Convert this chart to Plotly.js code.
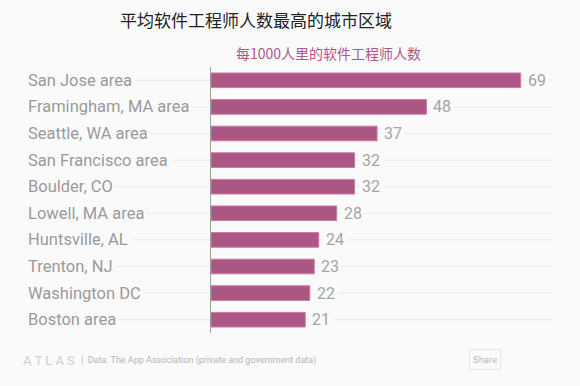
<!DOCTYPE html>
<html>
<head>
<meta charset="utf-8">
<script src="https://cdn.plot.ly/plotly-3.0.1.min.js"></script>
<style>
html,body{margin:0;padding:0;background:#fafafa;}
#chart{width:580px;height:386px;}
</style>
</head>
<body>
<div id="chart"></div>
<script>
const categories = ["San Jose area","Framingham, MA area","Seattle, WA area","San Francisco area","Boulder, CO","Lowell, MA area","Huntsville, AL","Trenton, NJ","Washington DC","Boston area"];
const values = [69,48,37,32,32,28,24,23,22,21];
const titleText = "平均软件工程师人数最高的城市区域";
const subtitleText = "每1000人里的软件工程师人数";
const sourceText = "Data: The App Association (private and government data)";

const W = 580, H = 386;
const mL = 211, mR = 27, mT = 67, mB = 53;
const plotW = W - mL - mR;
const px2paper = p => (p - mL) / plotW;
const bg = "#fafafa";
const font = "Roboto, 'Noto Sans', sans-serif";
const cjk = "'Noto Sans CJK SC', sans-serif";

const shapes = [];
const annotations = [];

categories.forEach((c, i) => {
  shapes.push({type:"line", xref:"paper", yref:"y", x0:px2paper(27), x1:1, y0:c, y1:c,
    line:{color:"#ebebeb", width:1}, layer:"below"});
  annotations.push({xref:"paper", yref:"y", x:px2paper(25), y:c, xanchor:"left", yanchor:"middle",
    text:c, showarrow:false, bgcolor:bg, borderpad:2,
    font:{family:font, size:16.5, color:"#9a9a9a"}});
  annotations.push({xref:"x", yref:"y", x:values[i], y:c, xanchor:"left", yanchor:"middle",
    xshift:4, text:String(values[i]), showarrow:false, bgcolor:bg, borderpad:2,
    font:{family:font, size:16, color:"#a5a5a5"}});
});

// axis line
shapes.push({type:"line", xref:"paper", yref:"paper", x0:px2paper(210.5), x1:px2paper(210.5), y0:0, y1:1,
  line:{color:"#9e9e9e", width:1}, layer:"above"});

// title & subtitle
annotations.push({xref:"paper", yref:"paper", x:px2paper(256), y:1 + (67-20)/(H-mT-mB),
  xanchor:"center", yanchor:"middle", text:titleText, showarrow:false,
  font:{family:cjk, size:17, color:"#222"}});
annotations.push({xref:"paper", yref:"paper", x:px2paper(328), y:1 + (67-53)/(H-mT-mB),
  xanchor:"center", yanchor:"middle", text:subtitleText, showarrow:false,
  font:{family:cjk, size:14, color:"#b0578a"}});

// footer
const ph = H - mT - mB;
const fy = (yy) => 1 - (yy - mT)/ph;
annotations.push({xref:"paper", yref:"paper", x:px2paper(21), y:fy(360), xanchor:"left", yanchor:"middle",
  text:"A T L A S", showarrow:false, font:{family:font, size:13, color:"#cfcfcf"}});
annotations.push({xref:"paper", yref:"paper", x:px2paper(79), y:fy(360), xanchor:"left", yanchor:"middle",
  text:"|  " + sourceText, showarrow:false, font:{family:font, size:9, color:"#b5b5b5"}});
shapes.push({type:"rect", xref:"paper", yref:"paper", x0:px2paper(469.5), x1:px2paper(500.5), y0:fy(369.5), y1:fy(349.5),
  line:{color:"#e6e6e6", width:1}, fillcolor:bg, layer:"above"});
annotations.push({xref:"paper", yref:"paper", x:px2paper(485), y:fy(359.5), xanchor:"center", yanchor:"middle",
  text:"Share", showarrow:false, font:{family:font, size:9.5, color:"#bbbbbb"}});

const trace = {
  type:"bar", orientation:"h", x:values, y:categories,
  marker:{color:"#ab5683", line:{color:"#c77ca5", width:1}},
  hoverinfo:"none"
};

const layout = {
  width:W, height:H,
  margin:{l:mL, r:mR, t:mT, b:mB, pad:0},
  paper_bgcolor:bg, plot_bgcolor:bg,
  bargap:0.45,
  showlegend:false,
  xaxis:{range:[0,76.2], showgrid:false, zeroline:false, showticklabels:false, showline:false, fixedrange:true},
  yaxis:{type:"category", autorange:"reversed", showgrid:false, zeroline:false, showticklabels:false, showline:false, fixedrange:true},
  shapes:shapes, annotations:annotations
};

Plotly.newPlot("chart", [trace], layout, {displayModeBar:false, staticPlot:true});
</script>
</body>
</html>
